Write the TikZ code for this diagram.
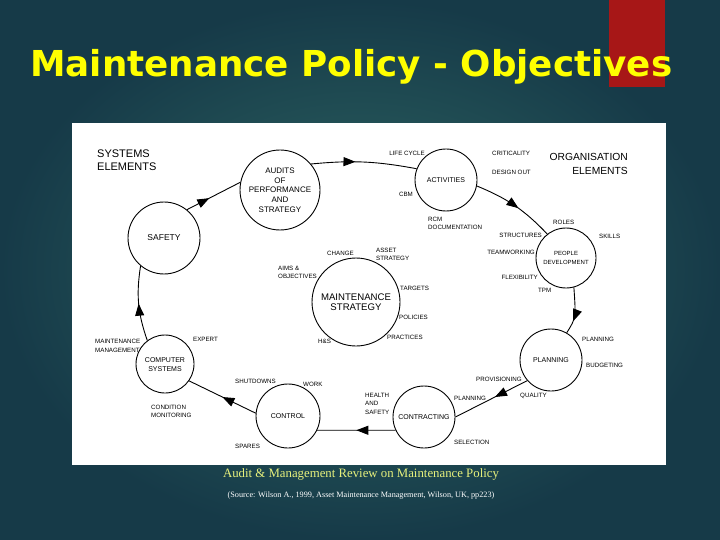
\documentclass[tikz,border=0pt]{standalone}
\usepackage{fontspec}
\setmainfont{Liberation Sans}
\newfontfamily\titlefont{DejaVu Sans}
\newfontfamily\capfont{Liberation Serif}
\usetikzlibrary{arrows.meta,decorations.markings}
\definecolor{bgdark}{HTML}{163A48}
\definecolor{bglight}{HTML}{2F6864}
\definecolor{barred}{HTML}{A71717}
\definecolor{titleyellow}{HTML}{FFFF00}
\definecolor{capyellow}{HTML}{E6F07C}
\begin{document}
\begin{tikzpicture}[x=1pt,y=-1pt,
    ring/.style={circle,draw,line width=0.9pt,inner sep=0pt,align=center,font=\fontsize{7}{9}\selectfont},
    lbl/.style={inner sep=0pt,align=left,font=\fontsize{6.2}{8.5}\selectfont},
    head/.style={inner sep=0pt,font=\fontsize{11}{13}\selectfont},
    flow/.style={line width=0.9pt,postaction={decorate},
      decoration={markings,mark=at position #1 with {\arrow{Triangle[length=12pt,width=9pt]}}}},
    flow/.default=0.5]
                \useasboundingbox (0,0) rectangle (720,540);
                \shade[inner color=bglight,outer color=bgdark] (0,0) rectangle (720,540);
                \fill[barred] (609,0) rectangle (665,87);
                \node[anchor=base west,inner sep=0pt,text=titleyellow,font=\titlefont\bfseries\fontsize{35.7}{40}\selectfont] (title) at (30,77) {Maintenance Policy - Objectives};
                \fill[white] (72,123) rectangle (666,465);

                \node[head,anchor=west,align=left] (syshead) at (97,160.5) {SYSTEMS\\ELEMENTS};
                \node[head,anchor=east,align=right,font=\fontsize{10.3}{13.5}\selectfont] (orghead) at (628,164) {ORGANISATION\\ELEMENTS};

                \node[ring,minimum size=80pt,font=\fontsize{8}{9.7}\selectfont] (audits) at (280,190) {AUDITS\\OF\\PERFORMANCE\\AND\\STRATEGY};
                \node[ring,minimum size=72pt,font=\fontsize{8.5}{10}\selectfont] (safety) at (164,238) {SAFETY};
                \node[ring,minimum size=62pt] (activities) at (446,180) {ACTIVITIES};
                \node[ring,minimum size=60pt,font=\fontsize{6}{9}\selectfont] (people) at (566,258) {PEOPLE\\DEVELOPMENT};
                \node[ring,minimum size=88pt,font=\fontsize{9.6}{10.5}\selectfont] (strategy) at (356,302) {MAINTENANCE\\STRATEGY};
                \node[ring,minimum size=62pt] (planning) at (551,360) {PLANNING};
                \node[ring,minimum size=62pt] (contracting) at (424,417) {CONTRACTING};
                \node[ring,minimum size=64pt] (control) at (288,416) {CONTROL};
                \node[ring,minimum size=58pt] (computer) at (165,364) {\\[-3pt]COMPUTER\\SYSTEMS};

                \draw[flow=0.42] (safety.51) -- (audits.169);
                \draw[flow=0.42] (audits.40) to[bend left=8] (activities.159);
                \draw[flow=0.55] (activities.-11) to[bend left=12] (people.128);
                \draw[flow=0.72] (people.-75) .. controls (576,318) .. (planning.60);
                \draw[flow=0.45] (planning.-139) -- (contracting.0);
                \draw[flow=0.5] (contracting.205) -- (control.-26);
                \draw[flow=0.5] (control.175) -- (computer.-35);
                \draw[flow=0.5] (computer.127) to[bend left=14] (safety.-130);

                \node[lbl,anchor=east] (lifecycle) at (425,153) {LIFE CYCLE};
                \node[lbl,anchor=west] (criticality) at (492,153) {CRITICALITY};
                \node[lbl,anchor=west] (designout) at (492,172) {DESIGN OUT};
                \node[lbl,anchor=east] (cbm) at (413,194) {CBM};
                \node[lbl,anchor=west] (rcm) at (428,223.5) {RCM\\DOCUMENTATION};
                \node[lbl,anchor=west] (roles) at (553,222) {ROLES};
                \node[lbl,anchor=west] (skills) at (599,236) {SKILLS};
                \node[lbl,anchor=east] (structures) at (542,235) {STRUCTURES};
                \node[lbl,anchor=east] (teamworking) at (535,252) {TEAMWORKING};
                \node[lbl,anchor=east] (flexibility) at (538,277) {FLEXIBILITY};
                \node[lbl,anchor=west] (tpm) at (538,290) {TPM};
                \node[lbl,anchor=west] (change) at (327,253) {CHANGE};
                \node[lbl,anchor=west] (asset) at (376,254.5) {ASSET\\STRATEGY};
                \node[lbl,anchor=west] (aims) at (278,272.5) {AIMS \&\\OBJECTIVES};
                \node[lbl,anchor=west] (targets) at (400,288) {TARGETS};
                \node[lbl,anchor=west] (policies) at (399,317) {POLICIES};
                \node[lbl,anchor=west] (practices) at (387,337) {PRACTICES};
                \node[lbl,anchor=west] (hs) at (318,341) {H\&S};
                \node[lbl,anchor=west] (mainman) at (95,346) {MAINTENANCE\\MANAGEMENT};
                \node[lbl,anchor=west] (expert) at (193,339) {EXPERT};
                \node[lbl,anchor=west] (condmon) at (151,411.5) {CONDITION\\MONITORING};
                \node[lbl,anchor=west] (shutdowns) at (235,381) {SHUTDOWNS};
                \node[lbl,anchor=west] (work) at (303,384) {WORK};
                \node[lbl,anchor=west] (spares) at (235,446) {SPARES};
                \node[lbl,anchor=west] (health) at (365,403.5) {HEALTH\\AND\\SAFETY};
                \node[lbl,anchor=west] (conplanning) at (454,398) {PLANNING};
                \node[lbl,anchor=west] (selection) at (454,442) {SELECTION};
                \node[lbl,anchor=west] (planplanning) at (582,339) {PLANNING};
                \node[lbl,anchor=west] (budgeting) at (586,365) {BUDGETING};
                \node[lbl,anchor=west] (provisioning) at (476,379) {PROVISIONING};
                \node[lbl,anchor=west] (quality) at (520,396) {QUALITY};

                \node[inner sep=0pt,text=capyellow,font=\capfont\fontsize{12.8}{14}\selectfont] (caption) at (361,474) {Audit \& Management Review on Maintenance Policy};
                \node[inner sep=0pt,text=white,font=\capfont\fontsize{8.2}{9}\selectfont] (source) at (361,496) {(Source: Wilson A., 1999, Asset Maintenance Management, Wilson, UK, pp223)};
            \end{tikzpicture}
\end{document}
